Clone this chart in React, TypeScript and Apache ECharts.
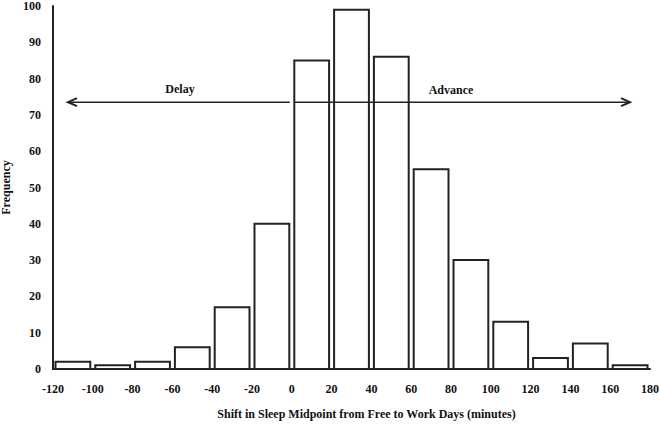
import React, { useEffect, useRef } from "react";
import * as echarts from "echarts";

const binStarts = [-120, -100, -80, -60, -40, -20, 0, 20, 40, 60, 80, 100, 120, 140, 160];
const binWidth = 20;
const frequencies = [2, 1, 2, 6, 17, 40, 85, 99, 86, 55, 30, 13, 3, 7, 1];
const xTicks = { min: -120, max: 180, interval: 20 };
const yTicks = { min: 0, max: 100, interval: 10 };

const FONT = "'Liberation Serif', 'Times New Roman', serif";

export default function App() {
  const ref = useRef<HTMLDivElement>(null);
  useEffect(() => {
    const chart = echarts.init(ref.current!, null, { renderer: "svg" });
    const data = binStarts.map((s, i) => [s, s + binWidth, frequencies[i]]);
    const left = 53, right = 10, top = 6, bottom = 58;
    const plotW = 660 - left - right;
    const plotH = 427 - top - bottom;
    const yArrow = top + plotH * (1 - 73.5 / 100);
    const xPix = (v: number) => left + ((v - xTicks.min) / (xTicks.max - xTicks.min)) * plotW;
    const xl0 = 68, xl1 = xPix(0) - 2, xr0 = xPix(0) + 3, xr1 = 630;
    const stroke = { stroke: "#222", lineWidth: 1.5 };
    chart.setOption({
      animation: false,
      grid: { left, right, top, bottom, outerBoundsMode: "none", containLabel: false },
      xAxis: {
        type: "value",
        min: xTicks.min,
        max: xTicks.max,
        interval: xTicks.interval,
        splitLine: { show: false },
        axisTick: { show: false },
        axisLine: { onZero: false, lineStyle: { color: "#222", width: 2 } },
        axisLabel: { color: "#111", fontFamily: FONT, fontWeight: "bold", fontSize: 12, margin: 14 },
        name: "Shift in Sleep Midpoint from Free to Work Days (minutes)",
        nameLocation: "middle",
        nameGap: 39,
        nameTextStyle: { color: "#111", fontFamily: FONT, fontWeight: "bold", fontSize: 12, padding: [0, 0, 0, 30] },
      },
      yAxis: {
        type: "value",
        min: yTicks.min,
        max: yTicks.max,
        interval: yTicks.interval,
        splitLine: { show: false },
        axisTick: { show: false },
        axisLine: { show: true, onZero: false, lineStyle: { color: "#222", width: 2 } },
        axisLabel: { color: "#111", fontFamily: FONT, fontWeight: "bold", fontSize: 12, margin: 12 },
        name: "Frequency",
        nameLocation: "middle",
        nameGap: 39,
        nameTextStyle: { color: "#111", fontFamily: FONT, fontWeight: "bold", fontSize: 12 },
      },
      series: [
        {
          type: "custom",
          data,
          renderItem: (params: any, api: any) => {
            const p0 = api.coord([api.value(0), api.value(2)]);
            const p1 = api.coord([api.value(1), 0]);
            const inset = 2.5;
            return {
              type: "rect",
              shape: { x: p0[0] + inset, y: p0[1], width: p1[0] - p0[0] - 2 * inset, height: p1[1] - p0[1] },
              style: { fill: "#fff", stroke: "#222", lineWidth: 2 },
            };
          },
          encode: { x: [0, 1], y: 2 },
          z: 2,
        },
      ],
      graphic: [
        { type: "line", z: 10, shape: { x1: xl0, y1: yArrow, x2: xl1, y2: yArrow }, style: stroke },
        { type: "polyline", z: 10, shape: { points: [[xl0 + 9, yArrow - 4], [xl0, yArrow], [xl0 + 9, yArrow + 4]] }, style: { ...stroke, fill: null, lineWidth: 2 } },
        { type: "line", z: 10, shape: { x1: xr0, y1: yArrow, x2: xr1, y2: yArrow }, style: stroke },
        { type: "polyline", z: 10, shape: { points: [[xr1 - 9, yArrow - 4], [xr1, yArrow], [xr1 - 9, yArrow + 4]] }, style: { ...stroke, fill: null, lineWidth: 2 } },
        { type: "text", z: 10, x: 180, y: yArrow - 13, style: { text: "Delay", fill: "#111", font: `bold 12px ${FONT}`, textAlign: "center", textVerticalAlign: "middle" } },
        { type: "text", z: 10, x: 451, y: yArrow - 12, style: { text: "Advance", fill: "#111", font: `bold 12px ${FONT}`, textAlign: "center", textVerticalAlign: "middle" } },
      ],
    });
    return () => chart.dispose();
  }, []);
  return <div ref={ref} style={{ width: 660, height: 427, position: "absolute", left: 0, top: 0 }} />;
}
